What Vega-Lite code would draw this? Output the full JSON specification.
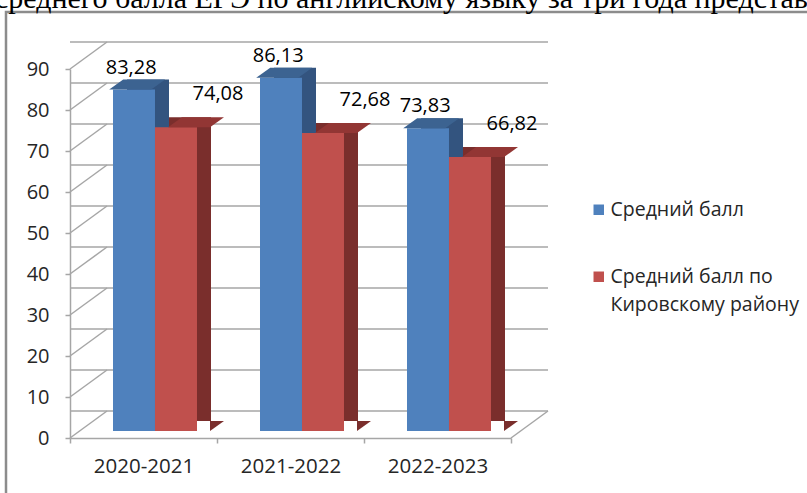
{
  "$schema": "https://vega.github.io/schema/vega-lite/v6.json",
  "width": 441,
  "height": 369,
  "autosize": {"type": "none"},
  "padding": {"left": 70, "top": 69, "right": 296, "bottom": 55},
  "background": "white",
  "title": {
    "text": "среднего балла ЕГЭ по английскому языку за три года представлены",
    "anchor": "start",
    "frame": "group",
    "font": "Liberation Serif",
    "fontSize": 30,
    "fontWeight": "normal",
    "color": "#000000",
    "baseline": "alphabetic",
    "dx": -75,
    "dy": 29,
    "offset": 2
  },
  "config": {
    "locale": {"number": {"decimal": ",", "thousands": " ", "grouping": [3], "currency": ["", ""]}},
    "view": {"stroke": null},
    "font": "Open Sans",
    "style": {"guide-label": {"lineHeight": 28}}
  },
  "resolve": {"scale": {"xOffset": "independent"}},
  "datasets": {
    "scores": [
      {"year": "2020-2021", "series": "Средний балл", "value": 83.28},
      {"year": "2020-2021", "series": "Средний балл по Кировскому району", "value": 74.08},
      {"year": "2021-2022", "series": "Средний балл", "value": 86.13},
      {"year": "2021-2022", "series": "Средний балл по Кировскому району", "value": 72.68},
      {"year": "2022-2023", "series": "Средний балл", "value": 73.83},
      {"year": "2022-2023", "series": "Средний балл по Кировскому району", "value": 66.82}
    ],
    "ticks": [
      {"v": 0}, {"v": 10}, {"v": 20}, {"v": 30}, {"v": 40},
      {"v": 50}, {"v": 60}, {"v": 70}, {"v": 80}, {"v": 90}
    ]
  },
  "layer": [
    {
      "data": {"values": [{}]},
      "mark": {"type": "rect", "filled": false, "stroke": "#8C8C8C", "strokeWidth": 2.5, "xOffset": -64, "yOffset": -57, "x2Offset": 300, "y2Offset": 100},
      "encoding": {
        "x": {"value": 0},
        "x2": {"value": "width"},
        "y": {"value": 0},
        "y2": {"value": "height"}
      }
    },
    {
      "data": {"name": "ticks"},
      "mark": {"type": "rule", "color": "#A6A6A6", "strokeWidth": 1.5, "xOffset": 37, "x2Offset": 37, "yOffset": -27},
      "encoding": {
        "y": {"field": "v", "type": "quantitative", "scale": {"domain": [0, 90], "nice": false}}
      }
    },
    {
      "data": {"name": "ticks"},
      "mark": {"type": "point", "shape": "M-73.5,0L-36.5,-27", "size": 4, "filled": false, "stroke": "#A6A6A6", "strokeWidth": 1.5, "opacity": 1},
      "encoding": {
        "x": {"datum": "2020-2021", "type": "nominal"},
        "y": {"field": "v", "type": "quantitative"}
      }
    },
    {
      "data": {"values": [{}]},
      "mark": {"type": "point", "shape": "M73.5,0L110.5,-27", "size": 4, "filled": false, "stroke": "#A6A6A6", "strokeWidth": 1.5, "opacity": 1},
      "encoding": {
        "x": {"datum": "2022-2023", "type": "nominal"},
        "y": {"datum": 0, "type": "quantitative"}
      }
    },
    {
      "data": {"name": "scores"},
      "mark": {"type": "bar", "yOffset": -17, "y2Offset": -17},
      "encoding": {
        "x": {"field": "year", "type": "nominal", "sort": null,
          "scale": {"type": "band", "paddingInner": 0, "paddingOuter": 0, "domain": ["2020-2021", "2021-2022", "2022-2023"]},
          "axis": {"title": null, "labelAngle": 0, "labelAlign": "center", "tickBand": "extent", "domainColor": "#A6A6A6", "domainWidth": 1.5, "tickColor": "#A6A6A6", "tickWidth": 1.5, "tickSize": 5, "labelFont": "Open Sans", "labelFontSize": 20.5, "labelColor": "#262626", "labelPadding": 23}},
        "xOffset": {"field": "series", "type": "nominal", "sort": null,
          "scale": {"paddingInner": 0, "paddingOuter": 0.75, "align": 0.9048}},
        "y": {"field": "value", "type": "quantitative",
          "axis": {"title": null, "values": [0, 10, 20, 30, 40, 50, 60, 70, 80, 90], "grid": false, "domainColor": "#A6A6A6", "domainWidth": 1.5, "tickColor": "#A6A6A6", "tickWidth": 1.5, "tickSize": 5, "labelFont": "Open Sans", "labelFontSize": 20, "labelColor": "#262626", "labelPadding": 16}},
        "fill": {"field": "series", "type": "nominal", "scale": {"range": ["#33547F", "#7A2E2C"]}, "legend": null}
      }
    },
    {
      "data": {"name": "scores"},
      "mark": {"type": "point", "shape": "M21,0L21,-10L35,-10Z", "size": 4, "filled": true, "opacity": 1, "strokeWidth": 0, "yOffset": -7},
      "encoding": {
        "x": {"field": "year", "type": "nominal", "sort": null},
        "xOffset": {"field": "series", "type": "nominal", "sort": null,
          "scale": {"paddingInner": 0, "paddingOuter": 0.75, "align": 0.6825}},
        "y": {"datum": 0, "type": "quantitative"},
        "fill": {"field": "series", "type": "nominal"}
      }
    },
    {
      "data": {"name": "scores"},
      "mark": {"type": "bar", "yOffset": -7, "y2Offset": -7},
      "encoding": {
        "x": {"field": "year", "type": "nominal", "sort": null},
        "xOffset": {"field": "series", "type": "nominal", "sort": null,
          "scale": {"paddingInner": 0, "paddingOuter": 0.75, "align": 0.6825}},
        "y": {"field": "value", "type": "quantitative"},
        "color": {"field": "series", "type": "nominal",
          "scale": {"range": ["#4F81BD", "#C0504D"]},
          "legend": {"orient": "none", "legendX": 519, "legendY": 131, "title": null, "symbolType": "square", "symbolSize": 110, "labelFont": "Open Sans", "labelFontSize": 19.5, "labelColor": "#262626", "rowPadding": 46, "labelOffset": 2, "labelLimit": 400,
            "labelExpr": "datum.label == 'Средний балл по Кировскому району' ? ['Средний балл по', 'Кировскому району'] : datum.label"}}
      }
    },
    {
      "data": {"name": "scores"},
      "transform": [{"filter": "datum.series == 'Средний балл'"}],
      "mark": {"type": "point", "shape": "M-21,0L21,0L35,-10L-7,-10Z", "size": 4, "filled": true, "opacity": 1, "strokeWidth": 0, "color": "#3C6391", "yOffset": -7},
      "encoding": {
        "x": {"field": "year", "type": "nominal", "sort": null},
        "xOffset": {"datum": "Средний балл", "type": "nominal",
          "scale": {"domain": ["Средний балл", "Средний балл по Кировскому району"], "paddingInner": 0, "paddingOuter": 0.75, "align": 0.6825}},
        "y": {"field": "value", "type": "quantitative"}
      }
    },
    {
      "data": {"name": "scores"},
      "transform": [{"filter": "datum.series != 'Средний балл'"}],
      "mark": {"type": "point", "shape": "M-21,0L21,0L35,-10L-7,-10Z", "size": 4, "filled": true, "opacity": 1, "strokeWidth": 0, "color": "#923634", "yOffset": -7},
      "encoding": {
        "x": {"field": "year", "type": "nominal", "sort": null},
        "xOffset": {"datum": "Средний балл по Кировскому району", "type": "nominal",
          "scale": {"domain": ["Средний балл", "Средний балл по Кировскому району"], "paddingInner": 0, "paddingOuter": 0.75, "align": 0.6825}},
        "y": {"field": "value", "type": "quantitative"}
      }
    },
    {
      "data": {"name": "scores"},
      "transform": [{"filter": "datum.series == 'Средний балл'"}],
      "mark": {"type": "text", "font": "Open Sans", "fontSize": 20, "color": "#000000", "baseline": "alphabetic", "dx": 1, "dy": -16, "yOffset": -7},
      "encoding": {
        "x": {"field": "year", "type": "nominal", "sort": null},
        "xOffset": {"datum": "Средний балл", "type": "nominal",
          "scale": {"domain": ["Средний балл", "Средний балл по Кировскому району"], "paddingInner": 0, "paddingOuter": 0.75, "align": 0.6825}},
        "y": {"field": "value", "type": "quantitative"},
        "text": {"field": "value", "type": "quantitative", "format": ".2f"}
      }
    },
    {
      "data": {"name": "scores"},
      "transform": [{"filter": "datum.series != 'Средний балл'"}],
      "mark": {"type": "text", "font": "Open Sans", "fontSize": 20, "color": "#000000", "baseline": "alphabetic", "dx": 29, "dy": -27, "yOffset": -7},
      "encoding": {
        "x": {"field": "year", "type": "nominal", "sort": null},
        "xOffset": {"datum": "Средний балл по Кировскому району", "type": "nominal",
          "scale": {"domain": ["Средний балл", "Средний балл по Кировскому району"], "paddingInner": 0, "paddingOuter": 0.75, "align": 0.6825}},
        "y": {"field": "value", "type": "quantitative"},
        "text": {"field": "value", "type": "quantitative", "format": ".2f"}
      }
    }
  ]
}
